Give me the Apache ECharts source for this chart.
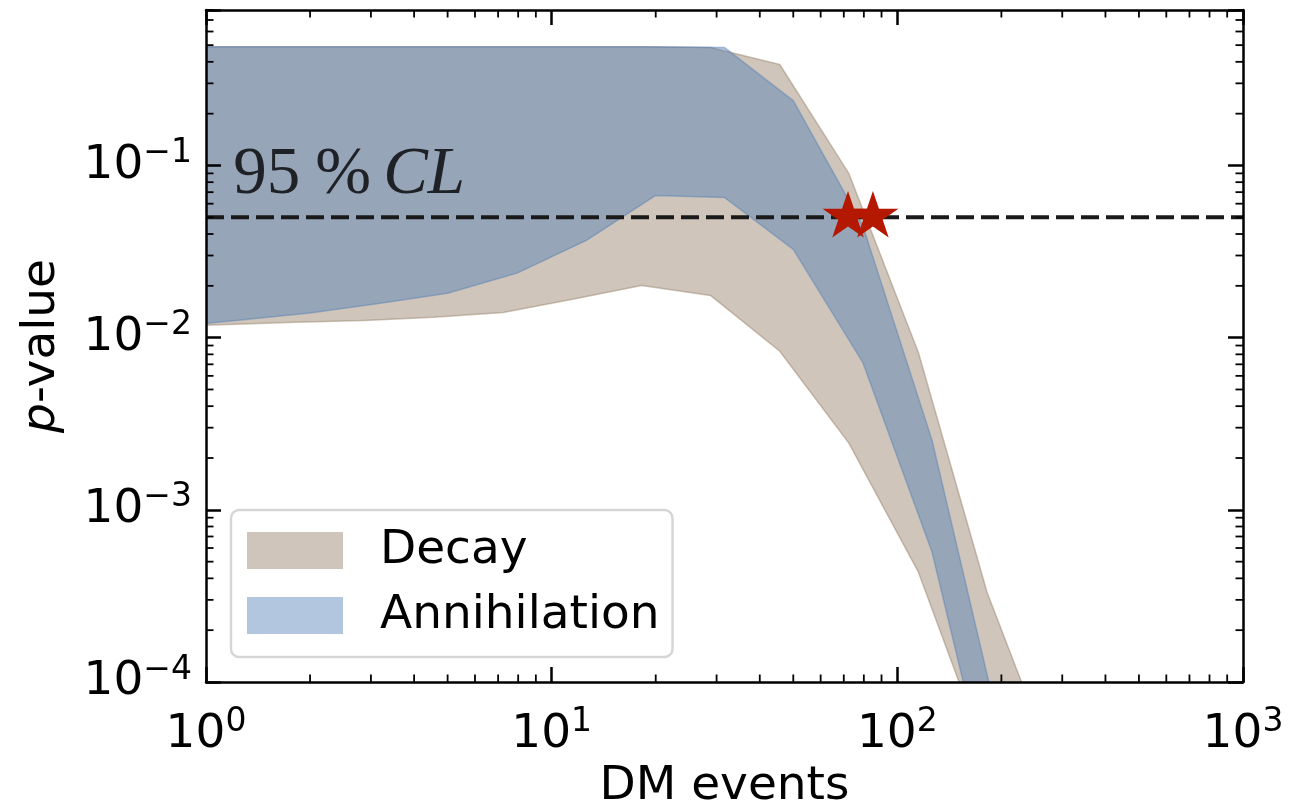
<!DOCTYPE html>
<html><head><meta charset="utf-8">
<script src="https://cdn.jsdelivr.net/npm/echarts@6/dist/echarts.min.js"></script>
<style>html,body{margin:0;padding:0;background:#fff}#c{width:1305px;height:808px}</style>
</head><body><div id="c"></div>
<script>
// ---- data ----
const decayX     = [1, 1.82, 2.88, 4.57, 7.24, 11.5, 18.2, 28.8, 45.7, 72.4, 115, 182, 288];
const decayUpper = [0.49, 0.49, 0.49, 0.49, 0.49, 0.49, 0.49, 0.485, 0.386, 0.0899, 0.00822, 3.3e-4, 3e-5];
const decayLower = [0.0118, 0.01227, 0.0126, 0.01312, 0.0140, 0.0167, 0.0201, 0.0176, 0.00834, 0.00244, 4.36e-4, 3.6e-5, 3e-6];

const annX     = [1, 2, 3.16, 5, 7.94, 12.6, 20, 31.6, 50, 79.4, 126, 200];
const annUpper = [0.49, 0.49, 0.49, 0.49, 0.49, 0.49, 0.49, 0.485, 0.238, 0.0449, 0.00254, 4.9e-5];
const annLower = [0.0121, 0.0139, 0.0158, 0.0181, 0.0237, 0.0367, 0.0670, 0.0652, 0.0326, 0.00719, 5.69e-4, 1.2e-5];

const clLevel = 0.05;
const clLineX = [1, 1000];
const starPoints = [[72, 0.05], [85, 0.05]];
const clTextAnchor = [1.2, 0.065];

const seriesNames = ['Decay', 'Annihilation'];
const xAxisTitle = 'DM events';

// ---- styling ----
const FONT = 'DejaVu Sans';
const decayColor = 'rgba(145,123,98,0.44)';
const annColor = 'rgba(80,126,182,0.44)';

function rows(xs, lo, hi) { return xs.map((x, i) => [x, lo[i], hi[i]]); }

function bandRenderer(xs, lo, hi, color) {
  return function (params, api) {
    if (params.dataIndex !== 0) return null;
    const pts = [];
    for (let i = 0; i < xs.length; i++) pts.push(api.coord([xs[i], hi[i]]));
    for (let i = xs.length - 1; i >= 0; i--) pts.push(api.coord([xs[i], lo[i]]));
    return { type: 'polygon', shape: { points: pts },
      style: { fill: color, stroke: color, lineWidth: 1.5, lineJoin: 'round' } };
  };
}

function supLabel(v) {
  const e = Math.round(Math.log10(v));
  if (Math.abs(v - Math.pow(10, e)) / v > 1e-6) return '';
  const s = e < 0 ? '\u2212' + (-e) : String(e);
  return '{b|10}{s|' + s + '}';
}
const labelRich = {
  b: { fontSize: 47, fontFamily: FONT, color: '#000', lineHeight: 47, verticalAlign: 'bottom' },
  s: { fontSize: 33, fontFamily: FONT, color: '#000', lineHeight: 33, verticalAlign: 'bottom', padding: [0, 0, 19, 0] }
};

// minor tick positions (axis decoration)
const xMinor = [], yMinor = [];
for (let k = 0; k <= 2; k++) for (let m = 2; m <= 9; m++) xMinor.push(m * Math.pow(10, k));
for (let k = -4; k <= -1; k++) for (let m = 2; m <= 9; m++) { const v = m * Math.pow(10, k); if (v <= 0.8 + 1e-9) yMinor.push(v); }

const MAJ = 15, MIN = 7.5;
const axisLineStyle = { color: '#000', width: 2.5 };

const chart = echarts.init(document.getElementById('c'), null, { renderer: 'canvas' });
chart.setOption({
  animation: false,
  backgroundColor: '#fff',
  grid: { left: 206, top: 10, width: 1037, height: 672, containLabel: false, outerBoundsMode: 'none' },
  legend: {
    data: seriesNames,
    orient: 'vertical', left: 231, top: 510,
    icon: 'rect', itemWidth: 96, itemHeight: 37, itemGap: 18,
    padding: [17, 13, 18, 16],
    backgroundColor: 'rgba(255,255,255,0.8)',
    borderColor: '#d6d6d6', borderWidth: 2.5, borderRadius: 8,
    textStyle: { fontSize: 47, fontFamily: FONT, color: '#000', padding: [0, 0, 0, 32] },
    selectedMode: false
  },
  xAxis: [{
    type: 'log', logBase: 10, min: 1, max: 1000, z: 10,
    name: xAxisTitle, nameLocation: 'middle', nameGap: 80,
    nameTextStyle: { fontSize: 47, fontFamily: FONT, color: '#000' },
    axisLine: { show: true, lineStyle: axisLineStyle },
    axisTick: { show: true, inside: true, length: MAJ, lineStyle: { color: '#000', width: 2.5 } },
    axisLabel: { show: true, margin: 29, formatter: supLabel, rich: labelRich, showMinLabel: true, showMaxLabel: true },
    splitLine: { show: false }, minorTick: { show: false }
  }, {
    type: 'log', logBase: 10, min: 1, max: 1000, z: 10, position: 'top',
    axisLine: { show: true, lineStyle: axisLineStyle },
    axisTick: { show: true, inside: true, length: MAJ, lineStyle: { color: '#000', width: 2.5 } },
    axisLabel: { show: false }, splitLine: { show: false }
  }],
  yAxis: [{
    type: 'log', logBase: 10, min: 1e-4, max: 0.8, z: 10,
    name: '{i|p}-value', nameLocation: 'middle', nameGap: 141,
    nameTextStyle: { fontSize: 47, fontFamily: FONT, color: '#000',
      rich: { i: { fontSize: 47, fontFamily: FONT, fontStyle: 'italic', color: '#000' } } },
    axisLine: { show: true, lineStyle: axisLineStyle },
    axisTick: { show: true, inside: true, length: MAJ, lineStyle: { color: '#000', width: 2.5 } },
    axisLabel: { show: true, margin: 14, formatter: supLabel, rich: labelRich, showMinLabel: true, showMaxLabel: true },
    splitLine: { show: false }, minorTick: { show: false }
  }, {
    type: 'log', logBase: 10, min: 1e-4, max: 0.8, z: 10, position: 'right',
    axisLine: { show: true, lineStyle: axisLineStyle },
    axisTick: { show: true, inside: true, length: MAJ, lineStyle: { color: '#000', width: 2.5 } },
    axisLabel: { show: false }, splitLine: { show: false }
  }],
  series: [
    {
      name: seriesNames[0], type: 'custom', clip: true, z: 2,
      itemStyle: { color: decayColor },
      encode: { x: 0, y: [1, 2] },
      data: rows(decayX, decayLower, decayUpper),
      renderItem: bandRenderer(decayX, decayLower, decayUpper, decayColor)
    },
    {
      name: seriesNames[1], type: 'custom', clip: true, z: 3,
      itemStyle: { color: annColor },
      encode: { x: 0, y: [1, 2] },
      data: rows(annX, annLower, annUpper),
      renderItem: bandRenderer(annX, annLower, annUpper, annColor)
    },
    {
      type: 'line', z: 4, symbol: 'none', silent: true,
      data: clLineX.map(x => [x, clLevel]),
      lineStyle: { color: '#1a1a1a', width: 4, type: [18, 7] }
    },
    {
      type: 'scatter', z: 5, silent: true,
      symbol: 'path://M50 0 L61.23 34.55 L97.55 34.55 L68.16 55.9 L79.39 90.45 L50 69.1 L20.61 90.45 L31.84 55.9 L2.45 34.55 L38.77 34.55 Z',
      symbolSize: [51, 49], symbolKeepAspect: true, symbolOffset: [0, -3],
      itemStyle: { color: '#b41800', opacity: 1 },
      data: starPoints
    },
    {
      type: 'scatter', z: 6, silent: true, symbolSize: 0,
      data: [clTextAnchor],
      label: {
        show: true, position: [0, 0], align: 'left', verticalAlign: 'bottom', offset: [0, 11],
        formatter: '{n|95}{p|%}{i|CL}',
        rich: {
          n: { fontFamily: 'Liberation Serif', fontSize: 67, color: '#000', lineHeight: 67 },
          p: { fontFamily: 'Liberation Serif', fontSize: 67, color: '#000', lineHeight: 67, padding: [0, 0, 0, 15] },
          i: { fontFamily: 'Liberation Serif', fontSize: 67, fontStyle: 'italic', color: '#000', lineHeight: 67, padding: [0, 0, 0, 12] }
        }
      }
    },
    {
      type: 'custom', z: 11, silent: true, clip: false,
      data: [0],
      renderItem: function (params, api) {
        const cs = params.coordSys;
        const children = [];
        const st = { stroke: '#000', lineWidth: 1.8 };
        xMinor.forEach(v => {
          const px = api.coord([v, 0.01])[0];
          children.push({ type: 'line', shape: { x1: px, y1: cs.y + cs.height, x2: px, y2: cs.y + cs.height - MIN }, style: st });
          children.push({ type: 'line', shape: { x1: px, y1: cs.y, x2: px, y2: cs.y + MIN }, style: st });
        });
        yMinor.forEach(v => {
          const py = api.coord([10, v])[1];
          children.push({ type: 'line', shape: { x1: cs.x, y1: py, x2: cs.x + MIN, y2: py }, style: st });
          children.push({ type: 'line', shape: { x1: cs.x + cs.width, y1: py, x2: cs.x + cs.width - MIN, y2: py }, style: st });
        });
        return { type: 'group', children: children };
      }
    }
  ]
});
</script>
</body></html>
